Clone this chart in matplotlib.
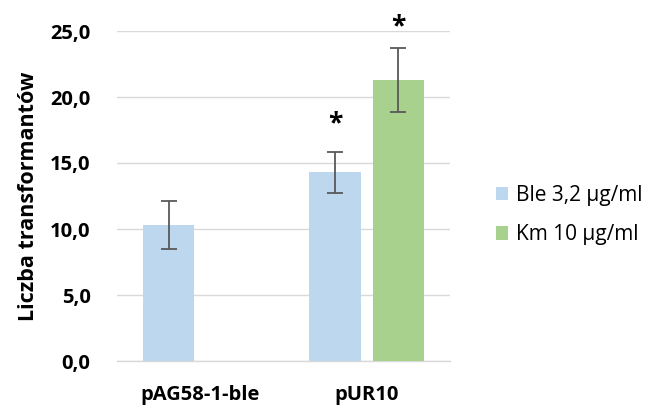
import matplotlib
matplotlib.use("Agg")
import matplotlib.pyplot as plt
import numpy as np

categories = ["pAG58-1-ble", "pUR10"]
series_names = ["Ble 3,2 µg/ml", "Km 10 µg/ml"]
ble_values = [10.3, 14.3]
ble_err = [1.8, 1.55]
km_values = [0.0, 21.3]
km_err = [0.0, 2.45]
ble_star = [False, True]
km_star = [False, True]
yticks = [0, 5, 10, 15, 20, 25]

blue = "#BDD7EE"
green = "#A9D18E"

plt.rcParams['font.family'] = ['Open Sans', 'DejaVu Sans']

fig = plt.figure(figsize=(6.58, 4.08), dpi=100)
ax = fig.add_axes([117/658, 1-361/408, 333/658, 330/408])

x = np.arange(len(categories))
w = 0.31
off = 0.19
ax.bar(x - off, ble_values, w, color=blue, zorder=3, label=series_names[0])
ax.bar(x + off, km_values, w, color=green, zorder=3, label=series_names[1])
for xi, v, e in zip(x - off, ble_values, ble_err):
    if e > 0:
        ax.errorbar(xi, v, yerr=e, fmt='none', ecolor='#595959', elinewidth=1.3, capsize=6, capthick=1.3, zorder=4)
for xi, v, e in zip(x + off, km_values, km_err):
    if e > 0:
        ax.errorbar(xi, v, yerr=e, fmt='none', ecolor='#595959', elinewidth=1.3, capsize=6, capthick=1.3, zorder=4)
for xi, v, e, s in zip(x - off, ble_values, ble_err, ble_star):
    if s:
        ax.text(xi, v + e + 2.1, "*", ha='center', va='center', fontsize=19, fontweight='bold', clip_on=False)
for xi, v, e, s in zip(x + off, km_values, km_err, km_star):
    if s:
        ax.text(xi, v + e + 1.6, "*", ha='center', va='center', fontsize=19, fontweight='bold', clip_on=False)

ax.set_xlim(-0.5, 1.5)
ax.set_ylim(0, 25)
ax.set_yticks(yticks)
ax.set_yticklabels([f"{t:.1f}".replace('.', ',') for t in yticks], fontsize=14.5, fontweight='bold')
ax.set_xticks(x)
ax.set_xticklabels(categories, fontsize=14.5, fontweight='bold')
ax.tick_params(axis='both', length=0)
ax.tick_params(axis='x', pad=17)
ax.tick_params(axis='y', pad=19)
ax.yaxis.grid(True, color='#d9d9d9', linewidth=1, zorder=0)
ax.set_axisbelow(True)
for sp in ['top', 'right', 'left']:
    ax.spines[sp].set_visible(False)
ax.spines['bottom'].set_color('#d9d9d9')
ax.spines['bottom'].set_linewidth(1)
ax.set_ylabel("Liczba transformantów", fontsize=15.5, fontweight='bold', labelpad=8)

handles, labels = ax.get_legend_handles_labels()
fig.legend(handles, labels, loc='center left', bbox_to_anchor=(477/658, 1-215/408),
           frameon=False, fontsize=15, handlelength=0.6, handleheight=0.6,
           handletextpad=0.35, labelspacing=0.9)

fig.savefig("out.png", dpi=100)
